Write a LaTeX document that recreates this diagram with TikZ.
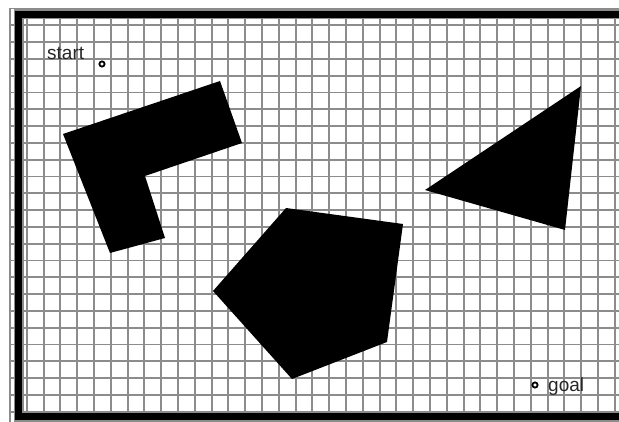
\documentclass[tikz,border=0pt]{standalone}
\usepackage{fontspec}
\setmainfont{Liberation Sans}
\definecolor{gridgray}{HTML}{8C8C8C}

\begin{document}
\begin{tikzpicture}[x=1pt, y=-1pt,
    gridline/.style={draw=gridgray, line width=1.9pt},
    obstacle/.style={fill=black},
    waypoint/.style={circle, draw=black, fill=white, line width=1.8pt, inner sep=0pt, minimum size=5.2pt},
    tag/.style={font=\fontsize{19}{21}\selectfont, inner sep=0pt, text=black!85}]
  \useasboundingbox (0,0) rectangle (619,422);
  % grid
  \foreach \i in {0,...,36}
    \draw[gridline] ({10+16.8*\i},8.5) -- ({10+16.8*\i},422);
  \foreach \j in {0,...,24}
    \draw[gridline] (10,{8.5+16.8*\j}) -- (619,{8.5+16.8*\j});
  % walls
  \draw[gridgray, line width=10pt] (625,14.5) -- (18.5,14.5) -- (18.5,416.5) -- (625,416.5);
  \draw[black, line width=7pt] (625,14.5) -- (18.5,14.5) -- (18.5,416.5) -- (625,416.5);
  % obstacles
  \fill[obstacle] (63,134) -- (220,81) -- (242,143) -- (145,176) -- (165,238) -- (110,253) -- cycle;
  \fill[obstacle] (425,190) -- (581,86) -- (565,230) -- cycle;
  \fill[obstacle] (286,208) -- (403,224) -- (387,342) -- (292,379) -- (213,291) -- cycle;
  % start and goal
  \node[waypoint] (start) at (102,64) {};
  \node[tag, anchor=base west] (startlabel) at (47,60) {start};
  \node[waypoint] (goal) at (535,385) {};
  \node[tag, anchor=base west] (goallabel) at (548,391) {goal};
\end{tikzpicture}
\end{document}
